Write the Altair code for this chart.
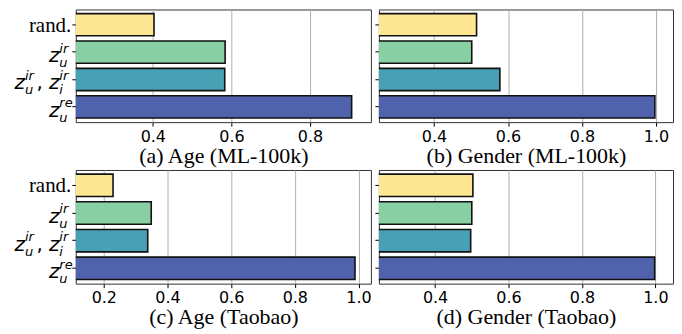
import altair as alt
import pandas as pd

categories = ["rand.", "z_u^ir", "z_u^ir, z_i^ir", "z_u^re"]
colors = ["#FDE792", "#88D0A4", "#47A0B3", "#4F62AB"]

panel_titles = ["(a) Age (ML-100k)", "(b) Gender (ML-100k)", "(c) Age (Taobao)", "(d) Gender (Taobao)"]
age_ml100k = [0.403, 0.584, 0.583, 0.906]
gender_ml100k = [0.515, 0.502, 0.578, 0.997]
age_taobao = [0.229, 0.349, 0.338, 0.989]
gender_taobao = [0.503, 0.500, 0.497, 0.998]
x_domains = [[0.204, 0.955], [0.251, 1.046], [0.112, 1.039], [0.247, 1.048]]
x_ticks = [[0.4, 0.6, 0.8], [0.4, 0.6, 0.8, 1.0], [0.2, 0.4, 0.6, 0.8, 1.0], [0.4, 0.6, 0.8, 1.0]]

# y-axis label pieces (math-style labels built from parts)
label_cat = ["rand.",
             "z_u^ir", "z_u^ir", "z_u^ir",
             "z_u^ir, z_i^ir", "z_u^ir, z_i^ir", "z_u^ir, z_i^ir", "z_u^ir, z_i^ir",
             "z_u^ir, z_i^ir", "z_u^ir, z_i^ir", "z_u^ir, z_i^ir",
             "z_u^re", "z_u^re", "z_u^re"]
label_role = ["word",
              "z", "sup", "sub",
              "z1", "sup1", "sub1", "comma", "z", "sup", "sub",
              "z", "sup", "sub"]
label_text = ["rand.",
              "z", "ir", "u",
              "z", "ir", "u", ",", "z", "ir", "i",
              "z", "re", "u"]

# styles for the label pieces
role_style = {
    "word": dict(font="Liberation Serif", fontSize=21, fontStyle="normal", align="right", x=-4.5, dy=7),
    "z": dict(font="DejaVu Sans", fontSize=20, fontStyle="italic", align="right", x=-16.5, dy=10),
    "sup": dict(font="DejaVu Sans", fontSize=13, fontStyle="italic", align="left", x=-16.5, dy=0.5),
    "sub": dict(font="DejaVu Sans", fontSize=13, fontStyle="italic", align="left", x=-16.5, dy=15),
    "z1": dict(font="DejaVu Sans", fontSize=20, fontStyle="italic", align="right", x=-51, dy=10),
    "sup1": dict(font="DejaVu Sans", fontSize=13, fontStyle="italic", align="left", x=-51, dy=0.5),
    "sub1": dict(font="DejaVu Sans", fontSize=13, fontStyle="italic", align="left", x=-51, dy=15),
    "comma": dict(font="DejaVu Sans", fontSize=20, fontStyle="normal", align="left", x=-39.5, dy=10),
}

labels_df = pd.DataFrame({"cat": label_cat, "role": label_role, "text": label_text})

y_scale = alt.Scale(domain=categories, paddingInner=0.19, paddingOuter=0.15)


def y_enc():
    return alt.Y("cat:N", sort=categories, scale=y_scale,
                 axis=alt.Axis(labels=False, ticks=True, tickSize=4, tickColor="#000",
                               domain=False, grid=False, title=None))


def panel(values, title, domain, ticks, width, height, with_labels):
    df = pd.DataFrame({"cat": categories, "value": values})
    bars = alt.Chart(df).mark_bar(stroke="#111", strokeWidth=1.6, clip=True).encode(
        x=alt.X("value:Q", scale=alt.Scale(domain=domain, zero=False, nice=False),
                axis=alt.Axis(values=ticks, format=".1f", title=title)),
        y=y_enc(),
        color=alt.Color("cat:N", scale=alt.Scale(domain=categories, range=colors), legend=None),
    )
    layers = [bars]
    if with_labels:
        for role, st in role_style.items():
            st = dict(st)
            xpos = st.pop("x")
            layers.append(
                alt.Chart(labels_df).transform_filter(alt.datum.role == role)
                .mark_text(baseline="alphabetic", color="#000", **st)
                .encode(x=alt.value(xpos), y=y_enc(), text="text:N")
            )
    return alt.layer(*layers).properties(width=width, height=height)


pa = panel(age_ml100k, panel_titles[0], x_domains[0], x_ticks[0], 296, 113, True)
pb = panel(gender_ml100k, panel_titles[1], x_domains[1], x_ticks[1], 295, 113, False)
pc = panel(age_taobao, panel_titles[2], x_domains[2], x_ticks[2], 296, 114, True)
pd_ = panel(gender_taobao, panel_titles[3], x_domains[3], x_ticks[3], 295, 114, False)

chart = alt.concat(pa, pb, pc, pd_, columns=2, spacing={"row": 2, "column": 2}).properties(
    padding={"left": 6, "top": 0, "right": 0, "bottom": 0}
).configure_view(
    stroke="#333", strokeWidth=1
).configure_axis(
    labelFont="DejaVu Sans", labelFontSize=16, labelColor="#000", labelPadding=2,
    tickColor="#000", tickSize=4,
    titleFont="Liberation Serif", titleFontSize=22, titleFontWeight="normal", titleColor="#000",
    titlePadding=1, gridColor="#b0b0b0", gridWidth=1, domain=False, zindex=1,
    labelOverlap=False,
)

chart.save("out.html", embed_options={"renderer": "svg", "actions": False})
